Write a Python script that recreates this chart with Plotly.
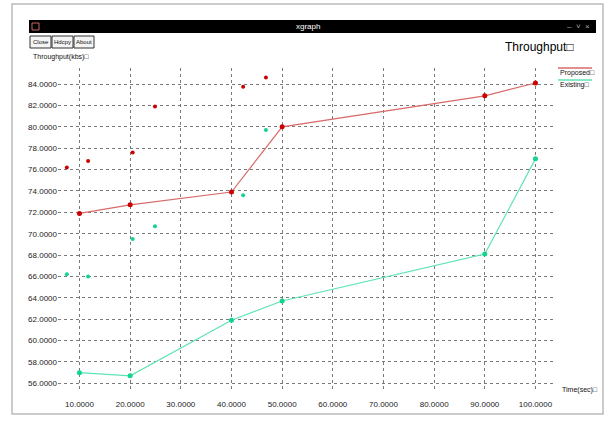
import plotly.graph_objects as go

# ---- data ----
time_line = [10, 20, 40, 50, 90, 100]
proposed = [71.9, 72.7, 73.9, 80.0, 82.9, 84.1]
existing = [57.0, 56.7, 61.9, 63.7, 68.1, 77.0]

scatter_x = [7.5, 11.7, 20.5, 24.9, 42.3, 46.8]
proposed_pts = [76.2, 76.8, 77.6, 81.9, 83.75, 84.6]
existing_pts = [66.2, 66.0, 69.5, 70.7, 73.6, 79.7]

x_ticks = [10, 20, 30, 40, 50, 60, 70, 80, 90, 100]
y_ticks = list(range(56, 86, 2))

W, H = 608, 421
L, R, T, B = 58, 52, 68, 29
PW, PH = W - L - R, H - T - B


def px(x):
    return (x - L) / PW


def py(y):
    return (H - B - y) / PH


RED_LINE = "#d86a6a"
RED_DOT = "#cc0000"
GRN_LINE = "#5fe3b4"
GRN_DOT = "#12d48a"

fig = go.Figure()
fig.add_trace(go.Scatter(x=time_line, y=proposed, mode="lines+markers",
                         line=dict(color=RED_LINE, width=1.2),
                         marker=dict(color=RED_DOT, size=5), showlegend=False))
fig.add_trace(go.Scatter(x=time_line, y=existing, mode="lines+markers",
                         line=dict(color=GRN_LINE, width=1.2),
                         marker=dict(color=GRN_DOT, size=5), showlegend=False))
fig.add_trace(go.Scatter(x=scatter_x, y=proposed_pts, mode="markers",
                         marker=dict(color=RED_DOT, size=4), showlegend=False))
fig.add_trace(go.Scatter(x=scatter_x, y=existing_pts, mode="markers",
                         marker=dict(color=GRN_DOT, size=4), showlegend=False))

font = dict(family="Liberation Sans, Arial, sans-serif", size=8, color="#222")

fig.update_xaxes(range=[5.76, 104.05], tickvals=x_ticks, tickformat=".4f",
                 showgrid=True, gridcolor="#7a7a7a", griddash="dot", gridwidth=1,
                 zeroline=False, showline=False, ticks="outside", ticklen=4,
                 tickcolor="rgba(0,0,0,0)", tickfont=font)
fig.update_yaxes(range=[55.19, 85.50], tickvals=y_ticks, tickformat=".4f",
                 showgrid=True, gridcolor="#7a7a7a", griddash="dot", gridwidth=1,
                 zeroline=False, showline=False, ticks="", tickfont=font)

shapes = []
annotations = []


def txt(text, x, y, size=7, color="#111", xanchor="left", yanchor="middle", family="Liberation Sans"):
    annotations.append(dict(text=text, x=px(x), y=py(y), xref="paper", yref="paper",
                            xanchor=xanchor, yanchor=yanchor, showarrow=False,
                            font=dict(family=family, size=size, color=color)))


# outer frame
shapes.append(dict(type="rect", xref="paper", yref="paper",
                   x0=px(12), x1=px(603), y0=py(414), y1=py(4),
                   line=dict(color="#bbbbbb", width=1.5), fillcolor="rgba(0,0,0,0)", layer="below"))
# title bar
shapes.append(dict(type="rect", xref="paper", yref="paper",
                   x0=px(29), x1=px(596), y0=py(33), y1=py(20),
                   line=dict(width=0), fillcolor="#000000"))
shapes.append(dict(type="rect", xref="paper", yref="paper",
                   x0=px(32), x1=px(39), y0=py(30), y1=py(23),
                   line=dict(color="#cc6666", width=1), fillcolor="rgba(0,0,0,0)"))
txt("xgraph", 308, 26.5, size=8, color="white", xanchor="center")
txt("–  ˅  ×", 592, 26, size=8, color="#aaaaaa", xanchor="right")
# buttons
for label, x0, x1 in [("Close", 30, 51), ("Hdcpy", 52, 73), ("About", 74, 94)]:
    shapes.append(dict(type="rect", xref="paper", yref="paper",
                       x0=px(x0), x1=px(x1), y0=py(48), y1=py(36),
                       line=dict(color="#333", width=1), fillcolor="#f4f4f4"))
    txt(label, (x0 + x1) / 2, 42, size=6, color="#111", xanchor="center")
# titles
txt("Throughput\u25a1", 503, 47, size=12, color="#000")
txt("Throughput(kbs)\u25a1", 31, 57, size=7)
txt("Time(sec)\u25a1", 560, 390, size=7)
# legend
for label, ytxt, color in [("Proposed\u25a1", 73, RED_LINE), ("Existing\u25a1", 85, GRN_LINE)]:
    shapes.append(dict(type="line", xref="paper", yref="paper",
                       x0=px(558), x1=px(592), y0=py(ytxt - 5), y1=py(ytxt - 5),
                       line=dict(color=color, width=1.5)))
    txt(label, 558, ytxt, size=7)

fig.update_layout(width=W, height=H, margin=dict(l=L, r=R, t=T, b=B, autoexpand=False),
                  plot_bgcolor="white", paper_bgcolor="white",
                  shapes=shapes, annotations=annotations, showlegend=False)

fig.write_html("out.html", config={"displayModeBar": False},
               post_script="document.body.style.margin='0px';")
